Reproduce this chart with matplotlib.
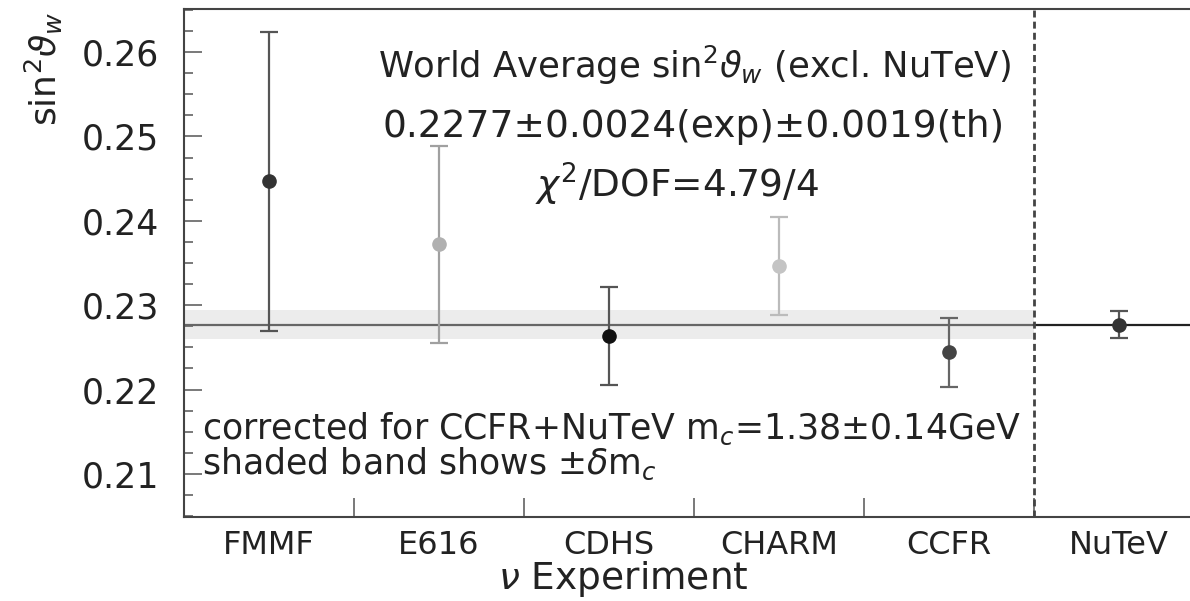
import matplotlib
matplotlib.use("Agg")
import matplotlib.pyplot as plt
from matplotlib.ticker import MultipleLocator, FixedLocator

# neutrino-nucleon measurements of sin^2 theta_W
experiments = ["FMMF", "E616", "CDHS", "CHARM", "CCFR", "NuTeV"]
sin2w = [0.2447, 0.2372, 0.2264, 0.2346, 0.2244, 0.2277]
sin2w_err = [0.0177, 0.0117, 0.0058, 0.0058, 0.0041, 0.0016]
marker_colors = ["#333333", "#b0b0b0", "#111111", "#c4c4c4", "#444444", "#333333"]
bar_colors = ["#555555", "#a0a0a0", "#555555", "#bbbbbb", "#666666", "#555555"]

world_avg = 0.2277
mc_band = 0.0017

plt.rcParams['font.family'] = ['DejaVu Sans']
plt.rcParams['mathtext.fontset'] = 'dejavusans'

fig = plt.figure(figsize=(11.9, 6.01), dpi=100)
ax = fig.add_axes([184 / 1190, 1 - 517 / 601, 1020 / 1190, 508 / 601])

xs = list(range(len(experiments)))

# shaded band for the charm-mass uncertainty, only over the older experiments
ax.fill_between([-0.5, 4.5], world_avg - mc_band, world_avg + mc_band,
                color="#ececec", lw=0, zorder=1)
ax.plot([-0.5, 4.5], [world_avg, world_avg], color="#666666", lw=1.6, zorder=2)
ax.plot([4.5, 5.5], [world_avg, world_avg], color="#222222", lw=1.6, zorder=2)
ax.axvline(4.5, color="#444444", lw=2, ls=(0, (2.5, 1.5)), zorder=3)

for x, y, e, mc, bc in zip(xs, sin2w, sin2w_err, marker_colors, bar_colors):
    ax.errorbar(x, y, yerr=e, fmt="o", ms=9.5, color=mc, mec=mc,
                ecolor=bc, elinewidth=1.6, capsize=6.5, capthick=1.6, zorder=4)

ax.set_xlim(-0.5, 5.5)
ax.set_ylim(0.2049, 0.2651)

ax.set_xticks(xs)
ax.set_xticklabels(experiments)
ax.xaxis.set_minor_locator(FixedLocator([0.5, 1.5, 2.5, 3.5, 4.5]))
ax.tick_params(axis="x", which="major", length=0, pad=9, labelsize=23,
               labelcolor="#222222")
ax.tick_params(axis="x", which="minor", direction="in", length=13.5,
               width=1.1, color="#555555")

ax.yaxis.set_major_locator(MultipleLocator(0.01))
ax.yaxis.set_minor_locator(MultipleLocator(0.0025))
ax.yaxis.set_major_formatter(lambda v, p: f"{v:.2f}")
ax.tick_params(axis="y", which="major", direction="in", length=13, width=1.1,
               color="#555555", pad=18, labelsize=25, labelcolor="#222222")
ax.tick_params(axis="y", which="minor", direction="in", length=6.5, width=1.1,
               color="#555555")

for s in ax.spines.values():
    s.set_color("#444444")
    s.set_linewidth(1.5)

ax.set_ylabel(r"sin$^2\vartheta_w$", fontsize=26, color="#222222")
ax.yaxis.set_label_coords((44 - 184) / 1020, (517 - 12) / 508)
ax.yaxis.label.set(rotation_mode="default", ha="center", va="top")

ax.set_xlabel(r"$\nu$ Experiment", fontsize=27, color="#222222")
ax.xaxis.set_label_coords((623 - 184) / 1020, (517 - 559) / 508)
ax.xaxis.label.set(ha="center", va="top")

ink = "#222222"
ax.text(2.5, 0.2569, r"World Average sin$^2\vartheta_w$ (excl. NuTeV)",
        ha="center", va="baseline", color=ink, fontsize=25.5, zorder=5)
ax.text(2.5, 0.2499, "0.2277±0.0024(exp)±0.0019(th)",
        ha="center", va="baseline", color=ink, fontsize=27, zorder=5)
ax.text(2.4, 0.2428, r"$\chi^2$/DOF=4.79/4",
        ha="center", va="baseline", color=ink, fontsize=27, zorder=5)

ax.text(-0.394, 0.2100,
        "corrected for CCFR+NuTeV m$_c$=1.38±0.14GeV\n"
        "shaded band shows ±$\\delta$m$_c$",
        ha="left", va="baseline", linespacing=0.95,
        color=ink, fontsize=25, zorder=5)

fig.savefig("out.png", dpi=100)
